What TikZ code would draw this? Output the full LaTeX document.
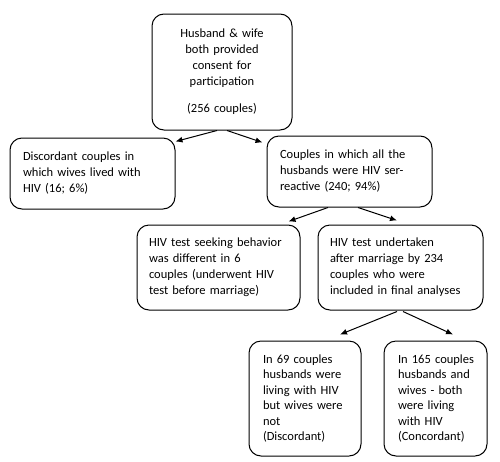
\documentclass[tikz,border=0pt]{standalone}
\usepackage{fontspec}
\setmainfont{Carlito}
\usetikzlibrary{arrows.meta}
\begin{document}
\begin{tikzpicture}[x=1pt,y=-1pt,
  box/.style={draw,line width=1pt,rounded corners=12pt,inner sep=0pt,align=left,
    font=\fontsize{12.5}{16}\selectfont},
  conn/.style={line width=1pt,-{Latex[length=7pt,width=6pt]}}]
\useasboundingbox (0,0) rectangle (500,461);
\node[box,align=center,minimum width=140pt,minimum height=116pt,text width=130pt] (b1) at (222,72)
  {Husband \& wife\\both provided\\consent for\\participation\\[11pt](256 couples)};
\node[box,minimum width=165pt,minimum height=71pt,text width=139pt] (b2) at (92.5,173.5)
  {Discordant couples in\\which wives lived with\\HIV (16; 6\%)};
\node[box,minimum width=165pt,minimum height=71pt,text width=139pt] (b3) at (349.5,171.5)
  {Couples in which all the\\husbands were HIV ser-\\reactive (240; 94\%)};
\node[box,minimum width=163pt,minimum height=85pt,text width=139pt] (b4) at (218.5,267.5)
  {HIV test seeking behavior\\was different in 6\\couples (underwent HIV\\test before marriage)};
\node[box,minimum width=165pt,minimum height=85pt,text width=141pt] (b5) at (400.5,267.5)
  {HIV test undertaken\\after marriage by 234\\couples who were\\included in final analyses};
\node[box,minimum width=112pt,minimum height=115pt,text width=84pt,
  font=\fontsize{12.5}{15.4}\selectfont] (b6) at (305,398.5)
  {\mbox{In 69 couples}\\\mbox{husbands were}\\\mbox{living with HIV}\\\mbox{but wives were}\\not\\(Discordant)};
\node[box,minimum width=103pt,minimum height=115pt,text width=75pt,
  font=\fontsize{12.5}{15.4}\selectfont] (b7) at (435.5,398.5)
  {\mbox{In 165 couples}\\\mbox{husbands and}\\\mbox{wives - both}\\\mbox{were living}\\\mbox{with HIV}\\(Concordant)};
\draw[conn] ([xshift=-5pt]b1.south) -- ([yshift=-4pt]b2.north east);
\draw[conn] ([xshift=5pt]b1.south) -- ([xshift=-4pt,yshift=-7pt]b3.north west);
\draw[conn] ([xshift=-21.5pt]b3.south) -- ([xshift=-12pt,yshift=3pt]b4.north east);
\draw[conn] ([xshift=8.5pt]b3.south) -- ([xshift=-3.5pt,yshift=4pt]b5.north);
\draw[conn] ([xshift=-3.5pt,yshift=-1pt]b5.south) -- ([xshift=35pt,yshift=6pt]b6.north);
\draw[conn] ([xshift=2.5pt,yshift=-1pt]b5.south) -- ([xshift=17.5pt,yshift=6pt]b7.north);
\end{tikzpicture}
\end{document}
